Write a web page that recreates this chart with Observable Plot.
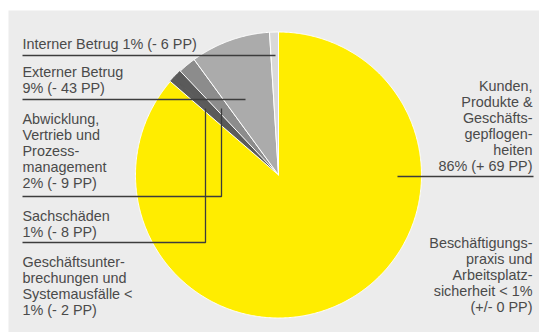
<!DOCTYPE html>
<html><head><meta charset="utf-8">
<script src="https://cdn.jsdelivr.net/npm/d3@7"></script>
<script src="https://cdn.jsdelivr.net/npm/@observablehq/plot@0.6"></script>
<style>body{margin:0;background:#fff} svg{display:block}</style>
</head><body><div id="chart"></div>
<script>
// ---- Data (slices clockwise from 12 o'clock) ----
const categories = ["Kunden", "Beschäftigungspraxis", "Geschäftsunterbrechungen", "Sachschäden", "Abwicklung", "Externer Betrug", "Interner Betrug"];
const shares = [86, 0.3, 0.3, 1, 2, 9, 1];
const labelTexts = [
  "Kunden,\nProdukte &\nGeschäfts-\ngepflogen-\nheiten\n86% (+ 69 PP)",
  "Beschäftigungs-\npraxis und\nArbeitsplatz-\nsicherheit < 1%\n(+/- 0 PP)",
  "Geschäftsunter-\nbrechungen und\nSystemausfälle <\n1% (- 2 PP)",
  "Sachschäden\n1% (- 8 PP)",
  "Abwicklung,\nVertrieb und\nProzess-\nmanagement\n2% (- 9 PP)",
  "Externer Betrug\n9% (- 43 PP)",
  "Interner Betrug 1% (- 6 PP)"
];

// ---- Styles ----
const sliceColors = ["#ffed00", "#5a5a5a", "#5a5a5a", "#5a5a5a", "#8c8c8c", "#ababab", "#d9d9d9"];
const darkGroup = new Set(["Beschäftigungspraxis", "Geschäftsunterbrechungen", "Sachschäden"]);

// ---- Layout (pixels) ----
const W = 539, H = 332;
const cx = 278, cy = 174.5, R = 143;
const labelLayout = [
  {x: 532, y: 170, side: "right"},
  {x: 532, y: 311, side: "right"},
  {x: 22, y: 314, side: "left"},
  {x: 22, y: 236, side: "left"},
  {x: 22, y: 187, side: "left"},
  {x: 22, y: 92, side: "left"},
  {x: 22, y: 48, side: "left"}
];
const leaderLayout = [
  [[397, 176], [533, 176]],
  null,
  null,
  [[22, 242], [205, 242], [205, 108]],
  [[22, 196], [221, 196], [221, 108]],
  [[22, 99], [245, 99]],
  [[22, 55], [275, 55]]
];

// ---- Build pie polygons from the data ----
const arcs = d3.pie().sort(null).value(d => d)(shares);
const polys = arcs.map((a, i) => {
  const name = categories[i];
  const rows = [{name, x: cx, y: cy}];
  const n = Math.max(2, Math.ceil((a.endAngle - a.startAngle) / (Math.PI / 360)));
  for (let k = 0; k <= n; ++k) {
    const t = a.startAngle + (a.endAngle - a.startAngle) * k / n;
    rows.push({name, x: cx + R * Math.sin(t), y: cy - R * Math.cos(t)});
  }
  rows.push({name, x: cx, y: cy});
  return rows;
});
// draw small dark slices first, the big slice last so its white edge shows
const drawOrder = [1, 2, 3, 4, 5, 6, 0];
const darkRows = drawOrder.filter(i => darkGroup.has(categories[i])).flatMap(i => polys[i]);
const lightRows = drawOrder.filter(i => !darkGroup.has(categories[i])).flatMap(i => polys[i]);

const leaderRows = [];
leaderLayout.forEach((pts, i) => {
  if (!pts) return;
  pts.forEach(([x, y]) => leaderRows.push({name: categories[i], x, y}));
});

const labelRows = labelTexts.map((t, i) => ({text: t, ...labelLayout[i]}));
const textStyle = {fontSize: 14.4, lineHeight: 16 / 14.4, lineAnchor: "bottom", fill: "#4a4a4a"};

const chart = Plot.plot({
  width: W, height: H,
  marginTop: 0, marginRight: 0, marginBottom: 0, marginLeft: 0,
  x: {type: "identity", axis: null},
  y: {type: "identity", axis: null},
  color: {domain: categories, range: sliceColors},
  style: {fontFamily: "'Liberation Sans', Arial, sans-serif", background: "#ffffff"},
  marks: [
    Plot.frame({fill: "#ececec", stroke: null, insetLeft: 8, insetTop: 10}),
    Plot.line(darkRows, {x: "x", y: "y", z: "name", fill: "name", stroke: "#5a5a5a", strokeWidth: 1, curve: "linear", strokeLinejoin: "miter"}),
    Plot.line(lightRows, {x: "x", y: "y", z: "name", fill: "name", stroke: "#ffffff", strokeWidth: 1, curve: "linear", strokeLinejoin: "miter"}),
    Plot.line(leaderRows, {x: "x", y: "y", z: "name", stroke: "#3c3c3c", strokeWidth: 1.3, strokeLinecap: "butt", strokeLinejoin: "miter", curve: "linear"}),
    Plot.text(labelRows.filter(d => d.side === "left"), {x: "x", y: "y", text: "text", textAnchor: "start", ...textStyle}),
    Plot.text(labelRows.filter(d => d.side === "right"), {x: "x", y: "y", text: "text", textAnchor: "end", ...textStyle})
  ]
});
document.getElementById("chart").append(chart);
</script>
</body></html>
